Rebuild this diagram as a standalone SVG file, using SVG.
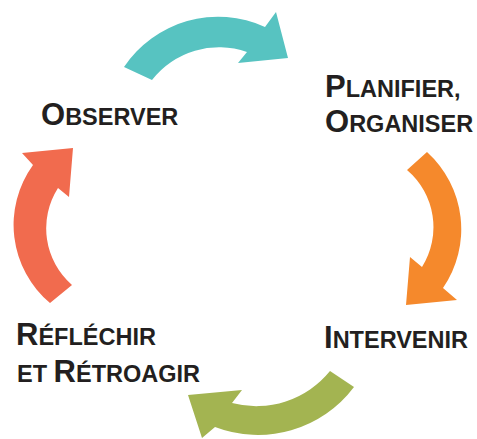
<svg xmlns="http://www.w3.org/2000/svg" width="477" height="439" viewBox="0 0 477 439">
<style>
.lbl{font-family:"Liberation Sans",Arial,sans-serif;font-weight:700;fill:#231f20}
.big{font-size:31px}
.sm{font-size:23.5px}
</style>
<rect width="477" height="439" fill="#ffffff"/>
<g id="connectors">
<path id="arrow-teal" fill="#57c3c1" d="M124,67 A113,113 0 0 1 265,27 L276,12 L288,58 L238,63 L247,52 A85,85 0 0 0 152,80 Z"/>
<path id="arrow-orange" fill="#f5892c" d="M427,152 A104,104 0 0 1 443,288 L457,300 L406,305 L410,257 L422,267 A75,75 0 0 0 407,170 Z"/>
<path id="arrow-green" fill="#a3b451" d="M354,387 A120,120 0 0 1 215,427 L202,438 L188,395 L242,390 L232,403 A95,95 0 0 0 330,371 Z"/>
<path id="arrow-red" fill="#f16b4e" d="M50,303 A102,102 0 0 1 33,165 L22,153 L73,148 L69,197 L58,188 A75,75 0 0 0 72,285 Z"/>
</g>
<g id="node-observer">
<text class="lbl" x="41" y="125"><tspan class="big">O</tspan><tspan class="sm">BSERVER</tspan></text>
</g>
<g id="node-planifier">
<text class="lbl" x="325" y="97"><tspan class="big">P</tspan><tspan class="sm">LANIFIER,</tspan></text>
<text class="lbl" x="325" y="132"><tspan class="big">O</tspan><tspan class="sm">RGANISER</tspan></text>
</g>
<g id="node-intervenir">
<text class="lbl" x="324" y="348"><tspan class="big">I</tspan><tspan class="sm">NTERVENIR</tspan></text>
</g>
<g id="node-reflechir">
<text class="lbl" x="16" y="345"><tspan class="big">R</tspan><tspan class="sm">ÉFLÉCHIR</tspan></text>
<text class="lbl" x="17" y="382"><tspan class="sm">ET </tspan><tspan class="big">R</tspan><tspan class="sm">ÉTROAGIR</tspan></text>
</g>
</svg>
